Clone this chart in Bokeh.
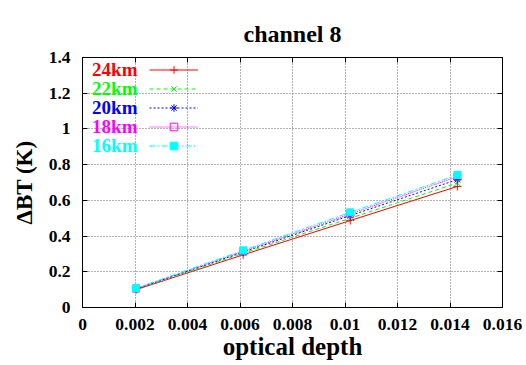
from bokeh.plotting import figure
from bokeh.models import (LinearAxis, FixedTicker, CustomJSTickFormatter, Legend,
                          LegendItem, Label, Range1d)
from bokeh.embed import file_html
from bokeh.resources import INLINE

# ---- data ----
optical_depth = [0.00204, 0.00612, 0.0102, 0.01428]
series_names = ["24km", "22km", "20km", "18km", "16km"]
dbt_24km = [0.100, 0.295, 0.487, 0.678]
dbt_22km = [0.102, 0.303, 0.500, 0.697]
dbt_20km = [0.104, 0.310, 0.515, 0.716]
dbt_18km = [0.106, 0.315, 0.524, 0.733]
dbt_16km = [0.108, 0.320, 0.533, 0.742]
x_ticks = [0, 0.002, 0.004, 0.006, 0.008, 0.01, 0.012, 0.014, 0.016]
x_tick_labels = ["0", "0.002", "0.004", "0.006", "0.008", "0.01", "0.012", "0.014", "0.016"]
y_ticks = [0, 0.2, 0.4, 0.6, 0.8, 1.0, 1.2, 1.4]
y_tick_labels = ["0", "0.2", "0.4", "0.6", "0.8", "1", "1.2", "1.4"]
title_text = "channel 8"

series_values = [dbt_24km, dbt_22km, dbt_20km, dbt_18km, dbt_16km]
colors = ["#ff0000", "#00ff00", "#0000ff", "#ff00ff", "#00ffff"]
dashes = ["solid", "4 3", "2 2", "1 1", "6 2 2 2"]
markers = ["cross", "x", "asterisk", "square", "square"]
fills = [None, None, None, None, "#00ffff"]

FONT = "Liberation Serif"

p = figure(width=526, height=365, output_backend="svg", toolbar_location=None,
           x_range=Range1d(0, 0.016), y_range=Range1d(0, 1.4),
           min_border_left=82, min_border_right=24, min_border_top=57,
           min_border_bottom=58, title=title_text)

p.title.text_font = FONT
p.title.text_font_style = "bold"
p.title.text_font_size = "24px"
p.title.text_color = "black"
p.title.align = "center"
p.title.vertical_align = "top"
p.title.standoff = 17

p.outline_line_color = "black"
p.outline_line_width = 1
p.background_fill_color = "white"
p.border_fill_color = "white"

xt = FixedTicker(ticks=x_ticks, minor_ticks=[])
yt = FixedTicker(ticks=y_ticks, minor_ticks=[])

for ax, t, labels in ((p.xaxis[0], xt, x_tick_labels), (p.yaxis[0], yt, y_tick_labels)):
    ax.ticker = t
    ax.major_label_overrides = {tv: lab for tv, lab in zip(t.ticks, labels)}
    ax.major_tick_in = 5
    ax.major_tick_out = 0
    ax.minor_tick_in = 0
    ax.minor_tick_out = 0
    ax.axis_line_color = "black"
    ax.major_tick_line_color = "black"
    ax.major_label_text_font = FONT
    ax.major_label_text_font_style = "bold"
    ax.major_label_text_font_size = "17.5px"
    ax.major_label_text_color = "black"
    ax.axis_label_text_font = FONT
    ax.axis_label_text_font_style = "bold"
    ax.axis_label_text_color = "black"

p.xaxis[0].axis_label = "optical depth"
p.yaxis[0].axis_label = "ΔBT (K)"
p.xaxis[0].axis_label_text_font_size = "25px"
p.yaxis[0].axis_label_text_font_size = "23px"
p.xaxis[0].major_label_standoff = 11
p.xaxis[0].axis_label_standoff = 0
p.yaxis[0].major_label_standoff = 12
p.yaxis[0].axis_label_standoff = 9

blank = CustomJSTickFormatter(code="return ''")
for loc, t in (("above", xt), ("right", yt)):
    ax = LinearAxis(ticker=t, formatter=blank, major_tick_in=5, major_tick_out=0,
                    minor_tick_in=0, minor_tick_out=0, major_label_standoff=0,
                    major_label_text_font_size="1px", axis_line_color="black")
    p.add_layout(ax, loc)

for g in (p.xgrid[0], p.ygrid[0]):
    g.grid_line_color = "#666666"
    g.grid_line_dash = "1 2"
    g.grid_line_width = 1
p.xgrid[0].ticker = xt
p.ygrid[0].ticker = yt

items = []
for name, vals, c, d, m, f in zip(series_names, series_values, colors, dashes, markers, fills):
    r1 = p.line(optical_depth, vals, line_color=c, line_dash=d, line_width=1)
    r2 = p.scatter(optical_depth, vals, marker=m, size=8 if m != "square" else 7,
                   line_color=c, fill_color=f, line_width=1)
    items.append(LegendItem(label=" ", renderers=[r1, r2]))

legend = Legend(items=items, location=(67, 152), padding=0, margin=0, spacing=0,
                glyph_width=49, glyph_height=19, label_width=0, label_standoff=0,
                label_text_font_size="8px", border_line_color=None,
                background_fill_alpha=0)
p.add_layout(legend)

for i, (name, c) in enumerate(zip(series_names, colors)):
    p.add_layout(Label(x=55, y=238 - 19 * i, x_units="screen", y_units="screen",
                       text=name, text_color=c, text_font=FONT, text_font_style="bold",
                       text_font_size="19px", text_align="right",
                       text_baseline="middle"))

open("out.html", "w").write(file_html(p, INLINE))
